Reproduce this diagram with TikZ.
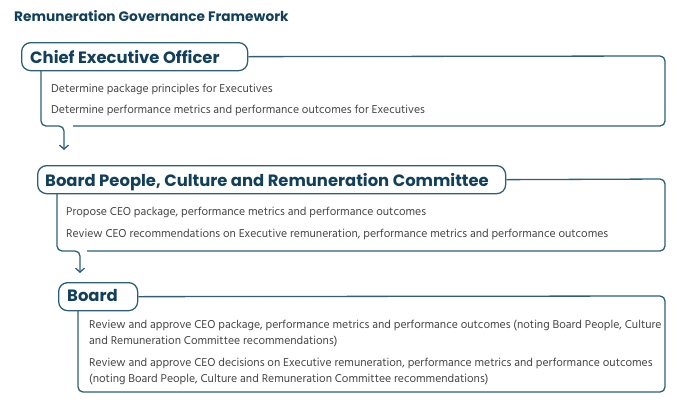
\documentclass[tikz,border=0pt]{standalone}
\usepackage{fontspec}
\setmainfont{Hind Madurai}
\newfontfamily\headfont{Poppins}
\usetikzlibrary{arrows.meta}
\definecolor{ink}{HTML}{123F5A}
\definecolor{frame}{HTML}{2D5F75}
\definecolor{bodytext}{HTML}{444444}
\begin{document}
\begin{tikzpicture}[x=1pt,y=-1pt,
  frameline/.style={draw=frame,line width=1.3pt,rounded corners=5pt},
  pill/.style={draw=frame,line width=1.3pt,rounded corners=9pt,minimum height=28pt,anchor=north west,inner sep=0pt},
  head/.style={font=\headfont\bfseries\fontsize{16.4}{18}\selectfont,text=ink,anchor=base west,inner sep=0pt},
  titletext/.style={font=\headfont\bfseries\fontsize{13.7}{15}\selectfont,text=ink,anchor=base west,inner sep=0pt},
  txt/.style={font=\fontsize{11.7}{16}\selectfont,text=bodytext,anchor=base west,inner sep=0pt},
  arr/.style={draw=frame,line width=1.3pt,rounded corners=5pt,-{Straight Barb[length=4pt,width=9pt]}}]
\useasboundingbox (0,0) rectangle (680,408);

\node[titletext] (title) at (14,21.7) {Remuneration Governance Framework};

% Box 1
\node[pill,minimum width=226pt] (ceo) at (21,42) {};
\node[head] (ceoh) at (30,63.5) {Chief Executive Officer};
\draw[frameline] (ceo.east) -- (665,56) -- (665,126) -- (73,126);
\node[txt] (c1) at (51,92) {Determine package principles for Executives};
\node[txt] (c2) at (51,113) {Determine performance metrics and performance outcomes for Executives};

% Box 2
\node[pill,minimum width=468pt] (bpcr) at (37,165) {};
\node[head] (bpcrh) at (45,186.7) {Board People, Culture and Remuneration Committee};
\draw[frameline] (bpcr.east) -- (665,179) -- (665,251) -- (87,251);
\node[txt] (p1) at (66,215) {Propose CEO package, performance metrics and performance outcomes};
\node[txt] (p2) at (66,237) {Review CEO recommendations on Executive remuneration, performance metrics and performance outcomes};

% Box 3
\node[pill,minimum width=79pt] (board) at (58,282) {};
\node[head] (boardh) at (67,301.7) {Board};
\draw[frameline] (board.east) -- (665,296) -- (665,392) -- (78,392) -- (78,310);
\node[txt] (b1) at (89,328) {Review and approve CEO package, performance metrics and performance outcomes (noting Board People, Culture};
\node[txt] (b2) at (89,344) {and Remuneration Committee recommendations)};
\node[txt] (b3) at (89,366) {Review and approve CEO decisions on Executive remuneration, performance metrics and performance outcomes};
\node[txt] (b4) at (89,382) {(noting Board People, Culture and Remuneration Committee recommendations)};

% Connectors
\draw[arr] (41,70) -- (41,126) -- (64,126) -- (64,150);
\draw[arr] (57,193) -- (57,251) -- (80,251) -- (80,273);
\end{tikzpicture}
\end{document}
